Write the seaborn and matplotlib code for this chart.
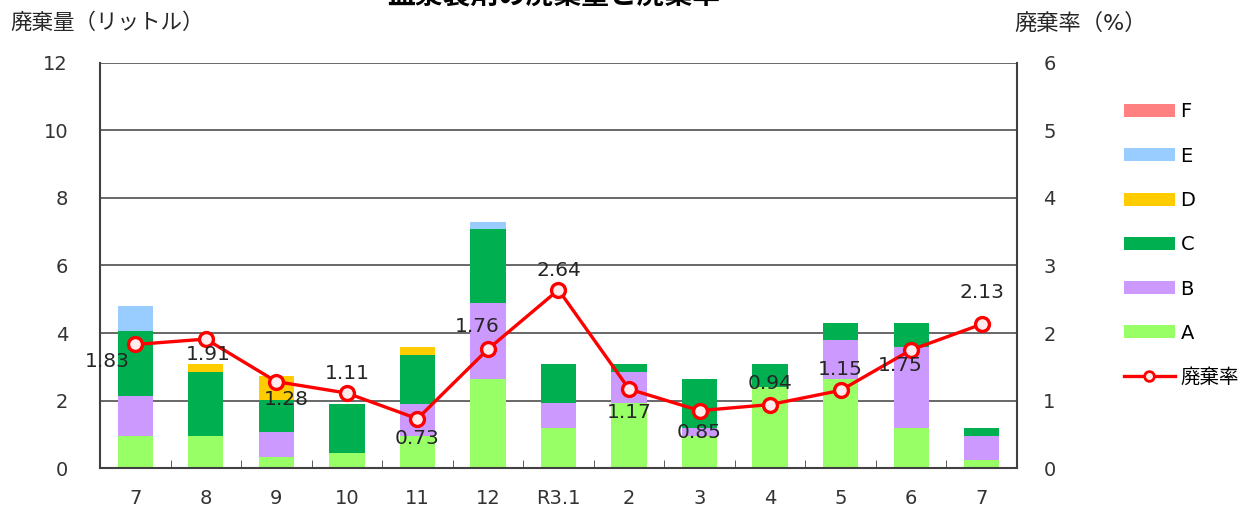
import numpy as np
import pandas as pd
import matplotlib
matplotlib.use("Agg")
import matplotlib.pyplot as plt
import seaborn as sns
from matplotlib.patches import Patch
from matplotlib.lines import Line2D

months = ["7", "8", "9", "10", "11", "12", "R3.1", "2", "3", "4", "5", "6", "7"]
vol_a = [0.96, 0.96, 0.33, 0.45, 0.95, 2.63, 1.18, 1.92, 0.96, 2.41, 2.63, 1.18, 0.24]
vol_b = [1.17, 0.00, 0.73, 0.00, 0.95, 2.27, 0.74, 0.93, 0.22, 0.00, 1.16, 2.40, 0.72]
vol_c = [1.94, 1.89, 0.95, 1.45, 1.44, 2.17, 1.16, 0.23, 1.45, 0.67, 0.50, 0.71, 0.22]
vol_d = [0.00, 0.23, 0.72, 0.00, 0.24, 0.00, 0.00, 0.00, 0.00, 0.00, 0.00, 0.00, 0.00]
vol_e = [0.73, 0.00, 0.00, 0.00, 0.00, 0.22, 0.00, 0.00, 0.00, 0.00, 0.00, 0.00, 0.00]
vol_f = [0.00] * 13
rate = [1.83, 1.91, 1.28, 1.11, 0.73, 1.76, 2.64, 1.17, 0.85, 0.94, 1.15, 1.75, 2.13]

series_names = ["A", "B", "C", "D", "E", "F"]
series_vals = [vol_a, vol_b, vol_c, vol_d, vol_e, vol_f]
colors = ["#99FF66", "#CC99FF", "#00B050", "#FFCC00", "#99CCFF", "#FF8080"]

# label offsets (points) for the rate labels, roughly as in the original
label_off = [(-20, -12), (2, -11), (7, -13), (0, 14), (0, -14), (-8, 16),
             (0, 14), (0, -17), (0, -16), (0, 15), (0, 15), (-8, -11), (0, 23)]

plt.rcParams["font.family"] = ["DejaVu Sans", "Noto Sans CJK JP"]

fig = plt.figure(figsize=(12.49, 5.12), dpi=100)
ax = fig.add_axes([0.0801, 0.0859, 0.7341, 0.7911])

x = np.arange(len(months))
cum = np.cumsum(np.array(series_vals), axis=0)
# draw cumulative totals from the top series down so they stack
for i in range(len(series_names) - 1, -1, -1):
    sns.barplot(x=x, y=cum[i], color=colors[i], width=0.5, ax=ax,
                saturation=1, linewidth=0, zorder=2)

ax.set_ylim(0, 12)
ax.set_xlim(-0.5, len(months) - 0.5)
ax.set_yticks(range(0, 13, 2))
ax.set_xticks(x)
ax.set_xticklabels(months)
ax.set_xticks(np.arange(0.5, len(months) - 1, 1), minor=True)
ax.tick_params(axis="x", which="major", length=0, pad=15, labelsize=14, colors="#333333")
ax.tick_params(axis="x", which="minor", direction="in", length=6, color="#404040")
ax.tick_params(axis="y", length=0, pad=23, labelsize=14, colors="#333333")
ax.yaxis.grid(True, color="#404040", linewidth=1.1, zorder=0)
ax.set_axisbelow(True)
ax.set_xlabel("")
ax.set_ylabel("")
for s in ["left", "right", "bottom"]:
    ax.spines[s].set_color("#404040")
    ax.spines[s].set_linewidth(1.5)
ax.spines["top"].set_visible(False)

ax2 = ax.twinx()
sns.lineplot(x=x, y=rate, ax=ax2, color="#FF0000", linewidth=2.4, marker="o",
             markersize=10, markerfacecolor="#FFECEC", markeredgecolor="#FF0000",
             markeredgewidth=2.4, zorder=5)
ax2.set_ylim(0, 6)
ax2.set_yticks(range(0, 7))
ax2.tick_params(axis="y", length=0, pad=19, labelsize=14, colors="#333333")
ax2.set_ylabel("")
for s in ax2.spines.values():
    s.set_visible(False)

for xi, r, off in zip(x, rate, label_off):
    ax2.annotate(f"{r:.2f}", (xi, r), xytext=off, textcoords="offset points",
                 ha="center", va="center", fontsize=14.5, color="#262626", zorder=6)

fig.text(0.008, 0.955, "廃棄量（リットル）", fontsize=15.5, ha="left", va="center", color="#262626")
fig.text(0.812, 0.955, "廃棄率（%）", fontsize=16, ha="left", va="center", color="#262626")
fig.text(0.443, 1.006, "血漿製剤の廃棄量と廃棄率", fontsize=20, fontweight="bold",
         ha="center", va="center", color="black")

handles = [Patch(facecolor=colors[i], label=series_names[i]) for i in range(len(series_names) - 1, -1, -1)]
handles.append(Line2D([0], [0], color="#FF0000", linewidth=2.4, marker="o", markersize=7,
                      markerfacecolor="#FFECEC", markeredgewidth=2, label="廃棄率"))
fig.legend(handles=handles, loc="upper left", bbox_to_anchor=(0.9, 0.8),
           frameon=False, fontsize=14, handlelength=2.6, handleheight=0.65,
           labelspacing=1.3, handletextpad=0.3, borderpad=0, borderaxespad=0)

fig.savefig("out.png", dpi=100)
